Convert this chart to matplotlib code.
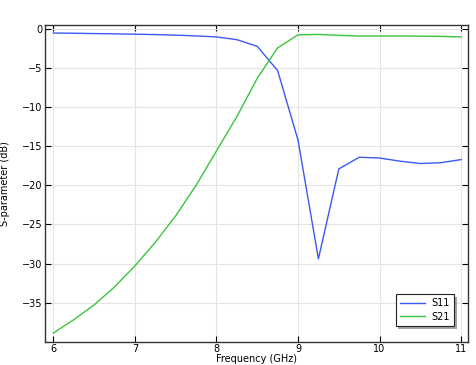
import matplotlib
matplotlib.use("Agg")
from matplotlib import pyplot as plt
import matplotlib.patheffects as pe

# frequency sweep (GHz)
freq = [6.0, 6.25, 6.5, 6.75, 7.0, 7.25, 7.5, 7.75, 8.0, 8.25, 8.5,
        8.75, 9.0, 9.25, 9.5, 9.75, 10.0, 10.25, 10.5, 10.75, 11.0]

# S-parameters (dB)
s11 = [-0.5, -0.53, -0.57, -0.6, -0.65, -0.7, -0.77, -0.87, -1.0, -1.35, -2.2,
       -5.3, -14.2, -29.4, -17.9, -16.4, -16.5, -16.9, -17.2, -17.1, -16.7]
s21 = [-38.9, -37.2, -35.3, -33.0, -30.3, -27.3, -23.9, -20.0, -15.6, -11.2, -6.3,
       -2.4, -0.73, -0.68, -0.8, -0.88, -0.88, -0.88, -0.9, -0.93, -1.0]

fig = plt.figure(figsize=(4.76, 3.65), dpi=100)
ax = fig.add_axes([0.0945, 0.064, 0.888, 0.868])

ax.plot(freq, s11, color="#3a5af0", lw=1.0, label="S11")
ax.plot(freq, s21, color="#3cc43c", lw=1.0, label="S21")

ax.set_xlim(5.898, 11.08)
ax.set_ylim(-40.0, 0.55)
ax.set_xticks([6, 7, 8, 9, 10, 11])
ax.set_yticks([0, -5, -10, -15, -20, -25, -30, -35])
ax.grid(True, color="#e4e4e4", lw=0.8)
ax.set_axisbelow(True)
ax.tick_params(direction="in", top=True, right=True, labelsize=7,
               length=4, width=0.8, pad=2)
for s in ax.spines.values():
    s.set_color("#333333")
    s.set_linewidth(1.0)

ax.set_xlabel("Frequency (GHz)", fontsize=7, labelpad=0)
ax.set_ylabel("S-parameter (dB)", fontsize=7)
ax.yaxis.set_label_coords(-0.082, 0.5)

leg = ax.legend(loc="lower right", fontsize=7, fancybox=False,
                edgecolor="#222222", framealpha=1, borderpad=0.45,
                handlelength=2.6, handletextpad=0.6, labelspacing=0.35,
                bbox_to_anchor=(0.979, 0.034))
leg.get_frame().set_linewidth(0.8)
leg.get_frame().set_path_effects([pe.SimplePatchShadow(offset=(2, -2), alpha=0.5),
                                  pe.Normal()])

fig.savefig("out.png", dpi=100)
plt.close(fig)
